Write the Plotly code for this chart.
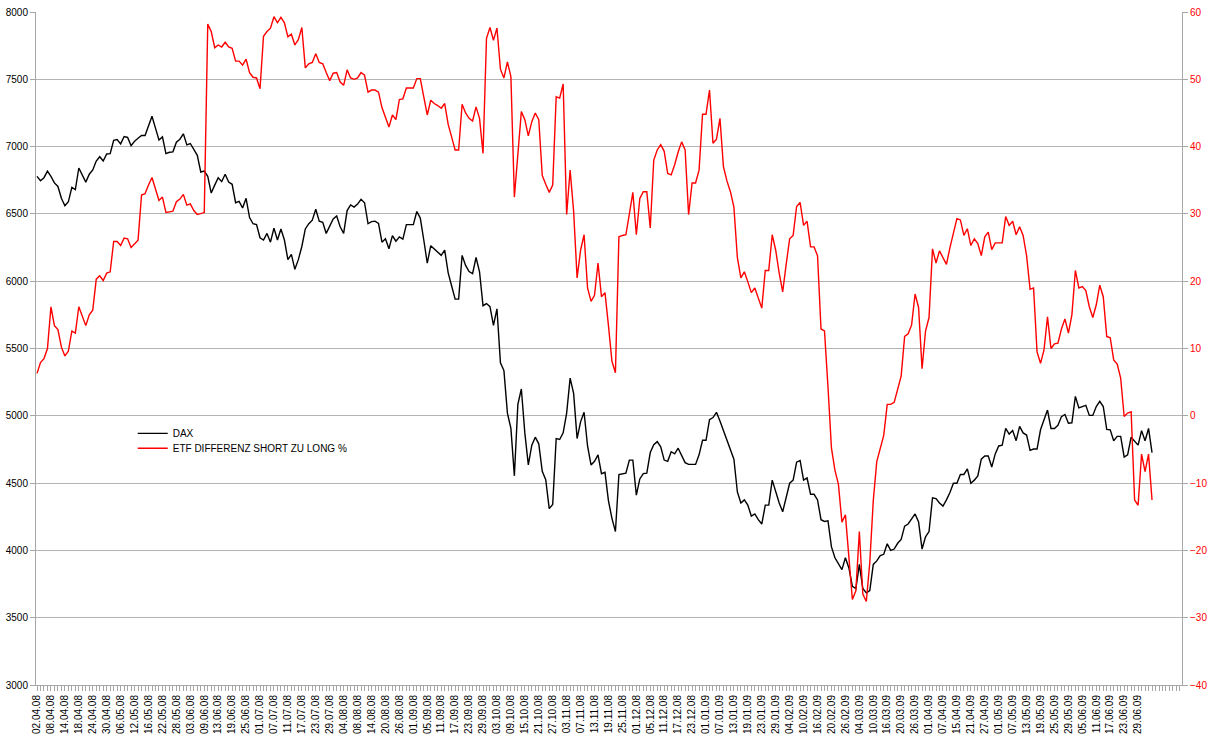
import plotly.graph_objects as go

# Tick labels (every 4th trading day)
date_labels = [
    "02.04.08", "08.04.08", "14.04.08", "18.04.08", "24.04.08", "30.04.08", "06.05.08", "12.05.08",
    "16.05.08", "22.05.08", "28.05.08", "03.06.08", "09.06.08", "13.06.08", "19.06.08", "25.06.08",
    "01.07.08", "07.07.08", "11.07.08", "17.07.08", "23.07.08", "29.07.08", "04.08.08", "08.08.08",
    "14.08.08", "20.08.08", "26.08.08", "01.09.08", "05.09.08", "11.09.08", "17.09.08", "23.09.08",
    "29.09.08", "03.10.08", "09.10.08", "15.10.08", "21.10.08", "27.10.08", "03.11.08", "07.11.08",
    "13.11.08", "19.11.08", "25.11.08", "01.12.08", "05.12.08", "11.12.08", "17.12.08", "23.12.08",
    "01.01.09", "07.01.09", "13.01.09", "19.01.09", "23.01.09", "29.01.09", "04.02.09", "10.02.09",
    "16.02.09", "20.02.09", "26.02.09", "04.03.09", "10.03.09", "16.03.09", "20.03.09", "26.03.09",
    "01.04.09", "07.04.09", "15.04.09", "21.04.09", "27.04.09", "01.05.09", "07.05.09", "13.05.09",
    "19.05.09", "25.05.09", "29.05.09", "05.06.09", "11.06.09", "17.06.09", "23.06.09", "29.06.09",
]
label_step = 4
n_categories = 329

dax = [
    6779, 6746, 6769, 6818, 6779, 6730, 6704, 6616, 6560, 6590, 6697, 6681, 6841, 6785, 6736, 6795,
    6827, 6893, 6925, 6893, 6945, 6948, 7046, 7052, 7020, 7075, 7068, 7007, 7039, 7062, 7082, 7082,
    7153, 7225, 7137, 7049, 7072, 6948, 6958, 6961, 7033, 7055, 7095, 7013, 7023, 6974, 6935, 6811,
    6818, 6779, 6655, 6714, 6769, 6740, 6795, 6736, 6720, 6583, 6593, 6544, 6616, 6473, 6427, 6420,
    6323, 6306, 6355, 6290, 6394, 6306, 6388, 6306, 6160, 6199, 6088, 6160, 6258, 6388, 6427, 6453,
    6534, 6446, 6437, 6355, 6404, 6463, 6485, 6404, 6355, 6525, 6567, 6551, 6573, 6609, 6583, 6427,
    6443, 6446, 6430, 6290, 6316, 6241, 6339, 6297, 6329, 6313, 6420, 6420, 6420, 6518, 6469, 6306,
    6134, 6264, 6241, 6218, 6192, 6231, 6062, 5964, 5867, 5867, 6192, 6117, 6072, 6056, 6176, 6069,
    5818, 5834, 5811, 5671, 5795, 5394, 5336, 5020, 4906, 4554, 5085, 5199, 4873, 4635, 4782, 4841,
    4792, 4587, 4525, 4310, 4342, 4831, 4824, 4873, 5020, 5280, 5166, 4831, 4955, 5026, 4776, 4635,
    4662, 4710, 4570, 4580, 4368, 4238, 4140, 4564, 4570, 4574, 4671, 4671, 4411, 4531, 4570, 4574,
    4727, 4785, 4808, 4769, 4671, 4662, 4733, 4717, 4759, 4701, 4652, 4639, 4639, 4639, 4710, 4818,
    4818, 4971, 4987, 5026, 4961, 4890, 4824, 4759, 4678, 4434, 4352, 4375, 4336, 4255, 4271, 4228,
    4196, 4336, 4336, 4522, 4434, 4352, 4287, 4401, 4499, 4522, 4655, 4668, 4522, 4538, 4417, 4417,
    4375, 4228, 4215, 4219, 4026, 3945, 3903, 3857, 3945, 3870, 3733, 3717, 3896, 3717, 3684, 3701,
    3896, 3922, 3961, 3971, 4049, 4000, 4010, 4053, 4082, 4180, 4196, 4232, 4271, 4212, 4010, 4101,
    4140, 4391, 4385, 4352, 4329, 4375, 4430, 4499, 4499, 4564, 4564, 4606, 4499, 4522, 4554, 4678,
    4701, 4701, 4619, 4717, 4776, 4782, 4906, 4864, 4890, 4815, 4922, 4873, 4857, 4743, 4753, 4753,
    4896, 4971, 5043, 4906, 4906, 4929, 4994, 5010, 4945, 4948, 5144, 5059, 5069, 5078, 5003, 5003,
    5069, 5108, 5069, 4899, 4896, 4815, 4847, 4847, 4694, 4710, 4841, 4808, 4782, 4890, 4815, 4906,
    4727,
]

etf_diff = [
    6.3, 7.9, 8.5, 10.0, 16.2, 13.4, 12.8, 10.2, 8.9, 9.6, 12.6, 12.3, 16.2, 14.7, 13.4, 15.0,
    15.7, 20.3, 20.8, 20.1, 21.2, 21.4, 25.9, 25.9, 25.3, 26.4, 26.3, 25.0, 25.5, 26.1, 32.8, 33.0,
    34.3, 35.4, 33.7, 32.0, 32.5, 30.2, 30.3, 30.4, 31.8, 32.2, 32.9, 31.3, 31.5, 30.5, 29.9, 30.1,
    30.2, 58.2, 57.1, 54.7, 55.1, 54.8, 55.5, 54.8, 54.6, 52.7, 52.7, 52.1, 53.0, 51.0, 50.3, 50.2,
    48.6, 56.4, 57.1, 57.6, 59.3, 58.4, 59.2, 58.4, 56.3, 56.7, 55.1, 55.9, 57.7, 51.7, 52.3, 52.5,
    53.8, 52.5, 52.3, 51.0, 49.8, 50.9, 51.0, 49.6, 49.1, 51.4, 50.2, 50.0, 50.2, 51.0, 50.6, 48.1,
    48.4, 48.4, 48.1, 45.8, 44.4, 42.9, 44.7, 44.0, 47.0, 47.1, 48.7, 48.7, 48.7, 50.1, 50.1, 47.4,
    44.7, 46.9, 46.4, 46.1, 45.7, 46.4, 43.3, 41.4, 39.5, 39.5, 46.3, 45.0, 44.2, 43.8, 45.9, 44.2,
    39.0, 56.1, 57.7, 55.8, 57.6, 51.5, 50.2, 52.6, 50.4, 32.5, 39.5, 45.2, 44.0, 41.6, 43.7, 45.0,
    44.0, 35.7, 34.4, 33.2, 34.3, 47.4, 47.2, 49.3, 29.9, 36.5, 30.4, 20.5, 24.6, 26.9, 19.0, 17.0,
    17.9, 22.7, 17.7, 18.3, 13.4, 8.1, 6.4, 26.6, 26.8, 26.9, 30.0, 33.2, 26.9, 32.3, 33.3, 33.3,
    27.9, 38.0, 39.5, 40.3, 39.3, 36.0, 35.8, 37.3, 39.2, 40.7, 39.5, 29.9, 34.6, 34.6, 36.5, 44.8,
    44.8, 48.4, 40.5, 41.1, 44.2, 37.0, 34.9, 33.3, 31.0, 23.5, 20.5, 21.4, 19.9, 18.3, 19.0, 17.5,
    16.0, 21.6, 21.6, 26.9, 24.6, 21.2, 18.4, 22.5, 26.3, 26.8, 31.1, 31.7, 28.3, 28.9, 25.1, 25.1,
    23.8, 12.9, 12.6, 4.3, -4.8, -8.1, -10.2, -15.8, -14.7, -21.0, -27.3, -26.0, -17.2, -26.5, -27.6, -21.8,
    -12.6, -6.8, -4.8, -2.9, 1.7, 1.7, 2.0, 4.0, 5.9, 11.8, 12.2, 13.5, 18.1, 16.1, 7.0, 12.6,
    14.6, 24.8, 22.7, 24.5, 23.6, 22.5, 25.0, 27.3, 29.3, 29.1, 26.8, 27.8, 25.3, 26.3, 25.6, 23.8,
    26.6, 27.3, 24.7, 25.7, 25.7, 25.7, 29.6, 28.3, 28.9, 26.9, 28.1, 26.8, 23.8, 18.8, 19.0, 9.5,
    7.8, 9.8, 14.7, 10.0, 10.7, 10.8, 12.9, 14.4, 12.3, 15.0, 21.6, 19.0, 19.2, 18.6, 16.2, 14.6,
    16.5, 19.4, 17.7, 11.8, 11.6, 8.3, 7.7, 5.6, -0.1, 0.4, 0.6, -12.5, -13.3, -5.7, -8.3, -5.7,
    -12.5,
]

x_idx = list(range(len(dax)))
tick_vals = list(range(n_categories))
tick_text = [""] * n_categories
for k, lab in enumerate(date_labels):
    tick_text[k * label_step] = lab

grid_col = "#b4b4b4"
axis_col = "#a6a6a6"
font_family = "Liberation Sans, Arial, sans-serif"

fig = go.Figure()
fig.add_trace(go.Scatter(x=x_idx, y=dax, mode="lines", name="DAX",
                         line=dict(color="black", width=1.4), legend="legend"))
fig.add_trace(go.Scatter(x=x_idx, y=etf_diff, mode="lines", name="ETF DIFFERENZ SHORT ZU LONG %",
                         line=dict(color="#ff0000", width=1.4), yaxis="y2", legend="legend2"))

legend_common = dict(xanchor="left", yanchor="top", bgcolor="rgba(0,0,0,0)",
                     font=dict(size=10, family=font_family, color="black"), itemwidth=30)

fig.update_layout(
    width=1215, height=744,
    margin=dict(l=36, r=33, t=12, b=59),
    paper_bgcolor="white", plot_bgcolor="white",
    font=dict(family=font_family, size=10, color="black"),
    showlegend=True,
    legend=dict(x=0.0844, y=0.3955, **legend_common),
    legend2=dict(x=0.0844, y=0.3733, **legend_common),
    xaxis=dict(range=[-0.29, 328.6], tickmode="array", tickvals=tick_vals, ticktext=tick_text,
               tickangle=-90, ticks="outside", ticklen=5, tickcolor=axis_col,
               showline=True, linecolor=axis_col, linewidth=1, showgrid=False, zeroline=False,
               tickfont=dict(size=10), automargin=False),
    yaxis=dict(range=[3000, 8000], tick0=3000, dtick=500, showgrid=True, gridcolor=grid_col,
               showline=True, linecolor=axis_col, ticks="outside", ticklen=5, tickcolor=axis_col,
               zeroline=False, tickfont=dict(size=10, color="black"), automargin=False),
    yaxis2=dict(range=[-40, 60], tick0=-40, dtick=10, overlaying="y", side="right",
                showgrid=False, showline=True, linecolor=axis_col, ticks="outside", ticklen=5,
                tickcolor=axis_col, zeroline=False, tickfont=dict(size=10, color="#ff0000"),
                automargin=False),
)

fig.write_html("out.html", config={"displayModeBar": False},
               post_script="document.body.style.margin='0';")
